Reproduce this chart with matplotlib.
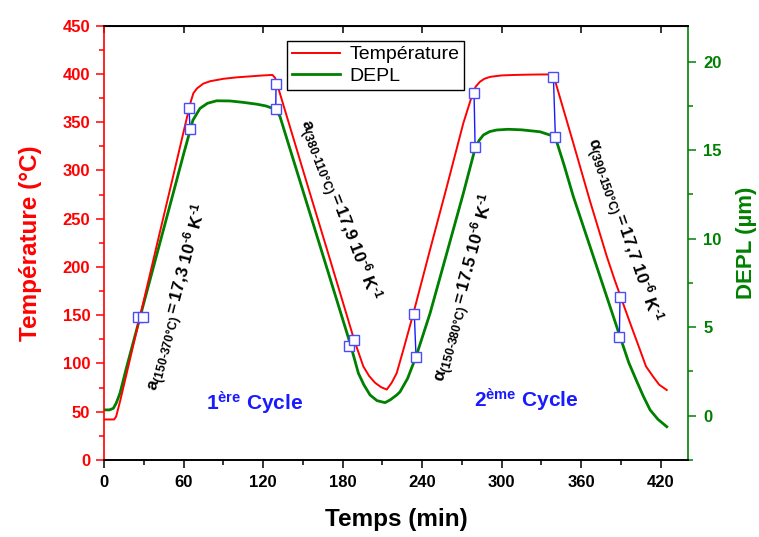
import matplotlib
matplotlib.use("Agg")
from matplotlib import pyplot as plt
from matplotlib.ticker import MultipleLocator

# --- temperature curve (°C) vs time (min) --- #
temp_t = [0, 7.5, 9, 12, 17, 27, 39.6, 52.2, 63.5, 65.5, 67.3, 70, 74.8, 80, 90,
          100, 110, 120, 127, 129, 130.2, 142.8, 155.4, 168, 180.5, 188.8, 195.6,
          200, 204.5, 209, 213.3, 217, 220.8, 226, 233.4, 246, 258.6, 271.1,
          278.2, 280.5, 283.7, 287, 291.3, 300, 310, 320, 330, 337, 339.1, 341,
          354.2, 366.8, 379.4, 385, 390.7, 397, 404.5, 409, 414.6, 419, 424.7]
temp_val = [42, 42, 45, 61, 90, 148.5, 222, 295, 361, 372, 380, 385, 390, 392.5,
            395, 396.5, 397.5, 398.5, 399, 396, 391, 333.5, 276, 219, 162, 124,
            97, 87, 80, 75.5, 73, 80, 90, 115, 152, 218, 283, 349, 380, 387, 392,
            395, 397, 398.5, 399, 399.3, 399.5, 399.5, 397, 390, 328, 268, 211,
            188, 166, 142, 114, 97, 86, 78, 72.5]

# --- displacement curve (µm) vs time (min) --- #
depl_t = [0, 4, 6.9, 9, 11.9, 17, 27, 39.6, 52.2, 60, 64.8, 67, 72.3, 78, 84.9,
          95, 105, 115, 122, 129.5, 132.7, 140, 160, 175, 185.6, 191.9, 196,
          200.7, 206, 212, 216, 220.8, 223.3, 229, 235.4, 246, 258.6, 271.1, 280,
          283, 286.3, 291, 296.3, 305, 315, 329, 340.4, 347, 354.2, 366.8, 379.4,
          389.4, 396, 402, 407, 412.1, 418, 424.7]
depl_val = [0.33, 0.33, 0.42, 0.7, 1.27, 2.77, 5.56, 9.08, 12.6, 14.8, 16.1, 16.7,
            17.36, 17.65, 17.79, 17.78, 17.7, 17.6, 17.5, 17.3, 16.9, 15.13, 10.3,
            6.67, 4.1, 2.4, 1.75, 1.17, 0.85, 0.74, 0.9, 1.17, 1.35, 2.1, 3.34,
            5.79, 9.18, 12.56, 15.1, 15.55, 15.86, 16.05, 16.14, 16.18, 16.15,
            16.04, 15.76, 14.2, 12.37, 9.55, 6.72, 4.47, 3.0, 1.95, 1.1, 0.33,
            -0.2, -0.62]

# --- points picked for the alpha computations (time, °C scale) --- #
pick_t_a = [25.7, 64.0, 129.7, 184.8, 234.1, 279.2, 339.1, 389.4]
pick_v_a = [147.9, 364.5, 389.3, 118.1, 151.3, 380.6, 397.2, 169.2]
pick_t_b = [29.5, 64.8, 129.5, 188.6, 235.4, 280.0, 340.6, 388.9]
pick_v_b = [148.5, 343.3, 363.4, 124.4, 107.1, 324.0, 335.0, 127.8]

# --- alpha annotations --- #
alpha_labels = [
    r"$a_{\text{(150-370°C)}} = 17{,}3\ 10^{\text{-6}}\ K^{\text{-1}}$",
    r"$a_{\text{(380-110°C)}} = 17{,}9\ 10^{\text{-6}}\ K^{\text{-1}}$",
    r"$α_{\text{(150-380°C)}}= 17.5\ 10^{\text{-6}}\ K^{\text{-1}}$",
    r"$α_{\text{(390-150°C)}}= 17{,}7\ 10^{\text{-6}}\ K^{\text{-1}}$",
]
alpha_pos_t = [55.8, 177.3, 272.4, 391.7]
alpha_pos_v = [168, 259, 178, 238]
alpha_rot = [75, -69, 75, -71]

cycle_labels = [r"$1^{ère}$ Cycle", r"$2^{ème}$ Cycle"]
cycle_pos_t = [113.9, 318.8]
cycle_pos_v = [59, 62]

RED = '#ff0000'
GREEN = '#008000'
BLUE = '#1a1aff'

plt.rcParams['font.family'] = ['Liberation Sans', 'DejaVu Sans']
plt.rcParams['font.weight'] = 'bold'
plt.rcParams['axes.labelweight'] = 'bold'
plt.rcParams['mathtext.fontset'] = 'custom'
plt.rcParams['mathtext.rm'] = 'Liberation Sans:bold'
plt.rcParams['mathtext.it'] = 'Liberation Sans:bold'
plt.rcParams['mathtext.bf'] = 'Liberation Sans:bold'
plt.rcParams['mathtext.default'] = 'rm'


def main():
    fig = plt.figure(figsize=(7.59, 5.37), dpi=100)
    ax1 = fig.add_axes([0.1373, 0.1434, 0.7693, 0.8087])
    ax2 = ax1.twinx()
    # temperature axis drawn above so the picked points stay on top
    ax1.set_zorder(ax2.get_zorder() + 1)
    ax1.patch.set_visible(False)

    l1, = ax1.plot(temp_t, temp_val, color=RED, lw=1.4, label='Température')
    l2, = ax2.plot(depl_t, depl_val, color=GREEN, lw=2.0, label='DEPL')

    for ta, va, tb, vb in zip(pick_t_a, pick_v_a, pick_t_b, pick_v_b):
        ax1.plot([ta, tb], [va, vb], color=BLUE, lw=1.0)
        ax1.plot([ta, tb], [va, vb], ls='none', marker='s', ms=6.5,
                 mfc='white', mec='#4a4aff', mew=1.0)

    for s, t, v, r in zip(alpha_labels, alpha_pos_t, alpha_pos_v, alpha_rot):
        ax1.text(t, v, s, rotation=r, rotation_mode='anchor', ha='center',
                 va='center', fontsize=12.5, color='black')
    for s, t, v in zip(cycle_labels, cycle_pos_t, cycle_pos_v):
        ax1.text(t, v, s, ha='center', va='center', fontsize=15, color=BLUE)

    # --- axes limits and ticks --- #
    ax1.set_xlim(0, 440.8)
    ax1.set_ylim(0, 450)
    ax2.set_ylim(-2.5, 22.03)
    ax1.xaxis.set_major_locator(MultipleLocator(60))
    ax1.xaxis.set_minor_locator(MultipleLocator(30))
    ax1.yaxis.set_major_locator(MultipleLocator(50))
    ax1.yaxis.set_minor_locator(MultipleLocator(25))
    ax2.yaxis.set_major_locator(MultipleLocator(5))
    ax2.yaxis.set_minor_locator(MultipleLocator(2.5))

    ax1.tick_params(axis='x', which='both', direction='out', colors='black',
                    labelsize=12, width=1.1, pad=5)
    ax1.tick_params(axis='y', which='both', direction='out', colors=RED,
                    labelsize=12, width=1.1, pad=4)
    ax2.tick_params(axis='y', which='both', direction='out', colors=GREEN,
                    labelsize=12, width=1.1, pad=5)
    for ax in (ax1, ax2):
        ax.tick_params(which='major', length=6)
        ax.tick_params(which='minor', length=3.5)

    top = ax1.secondary_xaxis('top')
    top.xaxis.set_major_locator(MultipleLocator(60))
    top.tick_params(direction='in', labeltop=False, length=5, width=1.1)

    # --- spines --- #
    ax1.spines['left'].set_color(RED)
    ax1.spines['right'].set_visible(False)
    ax2.spines['right'].set_color(GREEN)
    ax2.spines['left'].set_visible(False)
    for ax in (ax1, ax2):
        for sp in ax.spines.values():
            sp.set_linewidth(1.2)

    ax1.set_xlabel('Temps (min)', fontsize=17.5, labelpad=13)
    ax1.set_ylabel('Température (°C)', fontsize=17.5, color=RED, labelpad=15)
    ax2.set_ylabel('DEPL (µm)', fontsize=16, color=GREEN, labelpad=10)

    leg = ax1.legend(handles=[l1, l2], loc='upper left',
                     bbox_to_anchor=(0.313, 0.965), borderaxespad=0,
                     prop={'weight': 'normal', 'size': 14}, fancybox=False,
                     edgecolor='black', framealpha=1, handlelength=2.5,
                     handletextpad=0.45, labelspacing=0.2, borderpad=0.25)
    leg.get_frame().set_linewidth(1.0)

    fig.savefig('out.png', dpi=100)


if __name__ == '__main__':
    main()
